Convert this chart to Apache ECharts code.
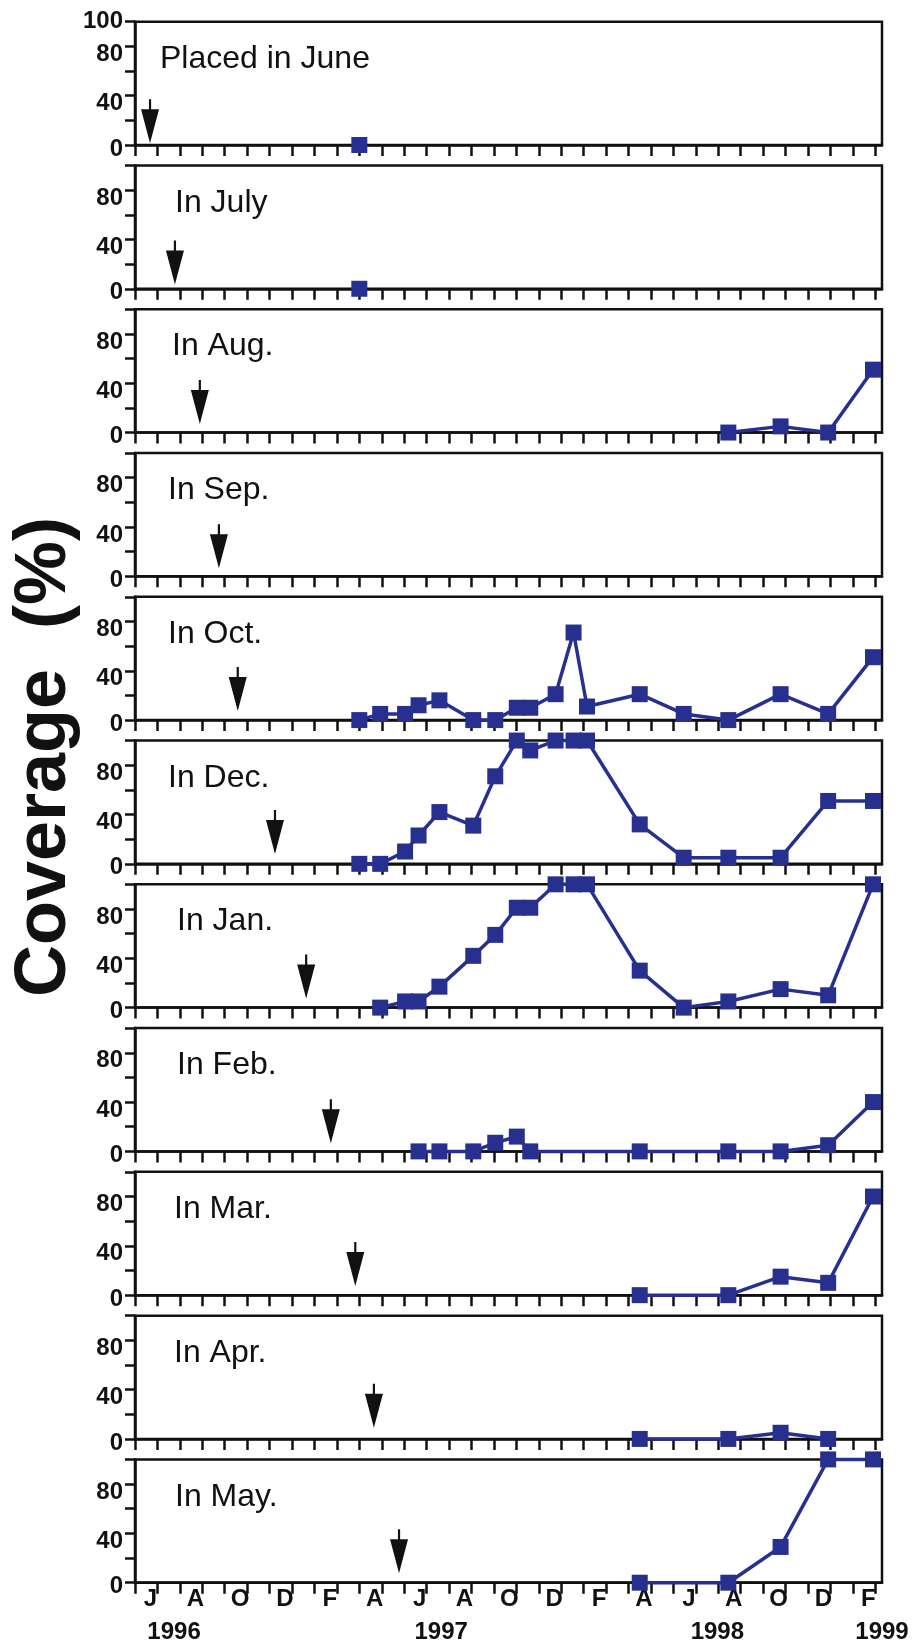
<!DOCTYPE html>
<html><head><meta charset="utf-8">
<script src="https://cdn.jsdelivr.net/npm/echarts@6/dist/echarts.min.js"></script>
<style>html,body{margin:0;padding:0;background:#fff}#c{width:913px;height:1650px}</style>
</head><body><div id="c"></div>
<script>
// month index: 0 = May 1996 (axis origin), 1 = Jun 1996 ... 33 = Feb 1999
const surveyMonths = [10, 10.93, 12.04, 12.64, 13.57, 15.08, 16.06, 17.02, 17.62, 18.75, 19.55, 20.15, 22.5, 24.46, 26.45, 28.78, 30.9, 32.9];
const N = null;
const panelNames = ["Placed in June", "In July", "In Aug.", "In Sep.", "In Oct.", "In Dec.", "In Jan.", "In Feb.", "In Mar.", "In Apr.", "In May."];
const juneVals = [0, N, N, N, N, N, N, N, N, N, N, N, N, N, N, N, N, N];
const julyVals = [0, N, N, N, N, N, N, N, N, N, N, N, N, N, N, N, N, N];
const augVals  = [N, N, N, N, N, N, N, N, N, N, N, N, N, N, 0, 5, 0, 51];
const sepVals  = [N, N, N, N, N, N, N, N, N, N, N, N, N, N, N, N, N, N];
const octVals  = [0, 5, 5, 12, 16, 0, 0, 10, 10, 21, 71, 11, 21, 5, 0, 21, 5, 51];
const decVals  = [0, 0, 10, 23, 42, 31, 71, 100, 92, 100, 100, 100, 32, 5, 5, 5, 51, 51];
const janVals  = [N, 0, 5, 5, 17, 42, 59, 81, 81, 100, 100, 100, 30, 0, 5, 15, 10, 100];
const febVals  = [N, N, N, 0, 0, 0, 7, 12, 0, N, N, N, 0, N, 0, 0, 5, 40];
const marVals  = [N, N, N, N, N, N, N, N, N, N, N, N, 0, N, 0, 15, 10, 80];
const aprVals  = [N, N, N, N, N, N, N, N, N, N, N, N, 0, N, 0, 5, 0, N];
const mayVals  = [N, N, N, N, N, N, N, N, N, N, N, N, 0, N, 0, 29, 100, 100];
const panelValues = [juneVals, julyVals, augVals, sepVals, octVals, decVals, janVals, febVals, marVals, aprVals, mayVals];
// placement arrows (month position, tip level)
const arrowMonths = [0.67, 1.78, 2.89, 3.74, 4.58, 6.24, 7.63, 8.73, 9.82, 10.65, 11.77];
const arrowTips = [1.5, 3.5, 7, 6.5, 7.3, 8, 7.3, 6.7, 7.5, 9, 7.6];
// axis ticks / labels
const monthTicks = Array.from({length: 34}, (_, i) => i);
const monthLabelPos = [1, 3, 5, 7, 9, 11, 13, 15, 17, 19, 21, 23, 25, 27, 29, 31, 33];
const monthLetters = ["J", "A", "O", "D", "F", "A", "J", "A", "O", "D", "F", "A", "J", "A", "O", "D", "F"];
const yearLabels = ["1996", "1997", "1998", "1999"];
const yearPos = [1.74, 13.65, 25.96, 33.3];

// layout
const GL = 135, GW = 747, GH = 123.3, TOP0 = 21.7, STEP = 143.77;
const labelX = [160, 175, 172, 168, 168, 168, 177, 177, 174, 174, 175];
const INK = '#111', BLUE = '#28308f';
const FONT = '"Liberation Sans", Arial, Helvetica, sans-serif';
const yLab = {fontSize: 24, fontWeight: 'bold', fontFamily: FONT, color: INK};

const chart = echarts.init(document.getElementById('c'), null, {renderer: 'canvas'});
const grids = [], xAxes = [], yAxes = [], series = [];
panelValues.forEach((vals, k) => {
  const top = TOP0 + STEP * k;
  grids.push({left: GL, width: GW, top: top, height: GH, show: true, borderColor: INK, borderWidth: 2.5, backgroundColor: 'transparent'});
  xAxes.push({
    gridIndex: k, type: 'value', min: 0, max: 33.3,
    axisLine: {show: true, onZero: false, lineStyle: {color: INK, width: 2.5}},
    axisTick: {show: true, inside: false, length: 11, customValues: monthTicks, lineStyle: {color: INK, width: 2.5}},
    axisLabel: {show: k === panelValues.length - 1, customValues: monthLabelPos,
      formatter: v => '{m|' + (monthLetters[monthLabelPos.indexOf(Math.round(v))] || '') + '}',
      rich: {m: {fontSize: 24, fontWeight: 'bold', fontFamily: FONT, color: INK, padding: [0, 14, 0, 0]}},
      margin: 5},
    splitLine: {show: false}
  });
  yAxes.push({
    gridIndex: k, type: 'value', min: 0, max: 100, interval: 20,
    axisLine: {show: true, lineStyle: {color: INK, width: 2.5}},
    axisTick: {show: true, length: 10, lineStyle: {color: INK, width: 2.5}},
    axisLabel: {
      formatter: v => {
        if (v === 40 || v === 80) return '{d|' + v + '}';
        if (v === 0) return '{z|0}';
        if (k === 0 && v === 100) return '{h|100}';
        return '';
      },
      rich: {
        d: Object.assign({lineHeight: 40, verticalAlign: 'bottom'}, yLab),
        z: Object.assign({lineHeight: 32, verticalAlign: 'bottom'}, yLab),
        h: Object.assign({lineHeight: 26}, yLab)
      },
      margin: 12},
    splitLine: {show: false}
  });
  series.push({
    type: 'line', xAxisIndex: k, yAxisIndex: k, clip: false,
    data: surveyMonths.map((m, i) => [m, vals[i]]).filter(d => d[1] !== null),
    symbol: 'rect', symbolSize: 16,
    itemStyle: {color: BLUE, opacity: 1},
    lineStyle: {color: BLUE, width: 3.5},
    z: 5
  });
  series.push({
    type: 'scatter', xAxisIndex: k, yAxisIndex: k, clip: false,
    data: [[arrowMonths[k], arrowTips[k]]],
    symbol: 'path://M7.9,0 L10.1,0 L10.1,10 L18,10 L9,44 L0,10 L7.9,10 Z',
    symbolSize: [18, 44], symbolOffset: [0, -22],
    itemStyle: {color: INK, opacity: 1}, z: 4
  });
});

chart.setOption({
  animation: false,
  backgroundColor: '#fff',
  grid: grids, xAxis: xAxes, yAxis: yAxes, series: series
});

const graphics = [];
panelNames.forEach((name, k) => {
  const y0 = TOP0 + STEP * k + GH;
  graphics.push({type: 'text', x: labelX[k], y: y0 - 86,
    style: {text: name, font: '32px ' + FONT, fill: INK, align: 'left', verticalAlign: 'middle'}});
});
const lastIdx = panelNames.length - 1;
const yBottom = TOP0 + STEP * lastIdx + GH;
yearLabels.forEach((t, i) => {
  const px = chart.convertToPixel({xAxisIndex: lastIdx}, yearPos[i]);
  graphics.push({type: 'text', x: px, y: yBottom + 50,
    style: {text: t, font: 'bold 24px ' + FONT, fill: INK, align: 'center', verticalAlign: 'middle'}});
});
graphics.push({type: 'text', x: 45, y: 757, rotation: Math.PI / 2,
  style: {text: 'Coverage  (%)', font: 'bold 72px ' + FONT, fill: INK, align: 'center', verticalAlign: 'middle'}});
chart.setOption({graphic: graphics});
</script></body></html>
